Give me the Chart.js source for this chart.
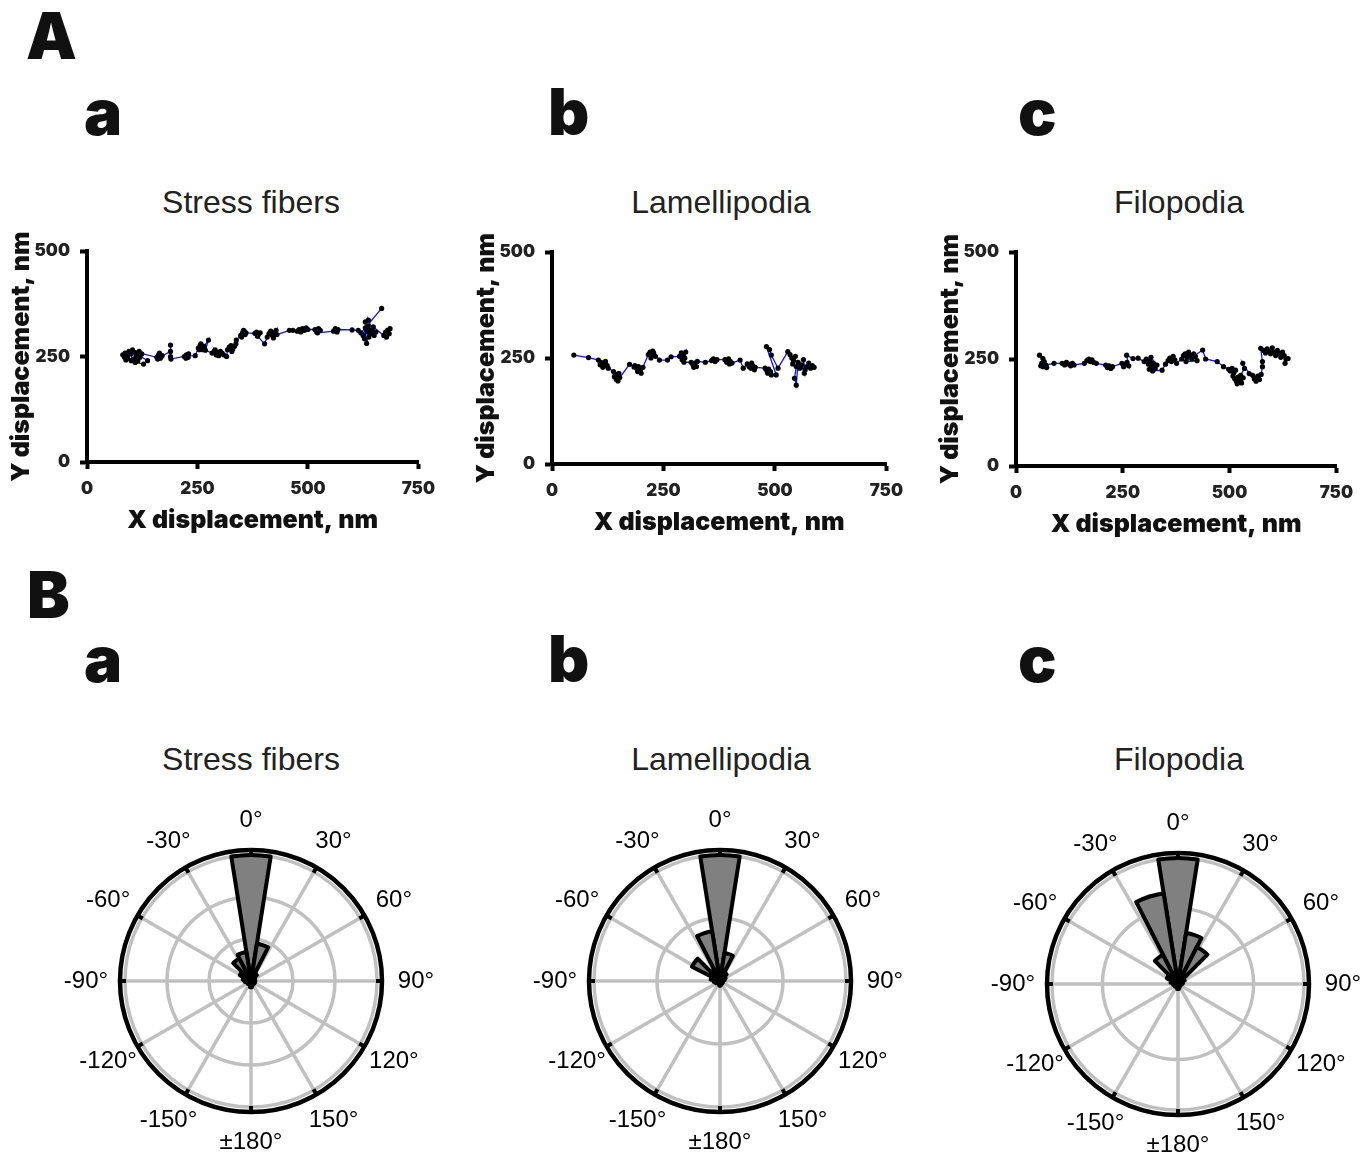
<!DOCTYPE html>
<html>
  <head>
    <meta charset="utf-8" />
    <title>Trajectories and direction roses</title>
    <script src="https://cdn.jsdelivr.net/npm/chart.js"></script>
    <style>
      body {
        margin: 0;
        background: #fff;
        width: 1363px;
        height: 1155px;
        position: relative;
        overflow: hidden;
        font-family: "Liberation Sans", Arial, sans-serif;
      }
      .panel {
        position: absolute;
        font-family: Inter, "DejaVu Sans", sans-serif;
        font-weight: 900;
        font-size: 64px;
        line-height: 1;
        color: #111;
      }
      .title {
        position: absolute;
        width: 300px;
        text-align: center;
        font-size: 32px;
        line-height: 1;
        color: #222;
      }
      canvas {
        position: absolute;
      }
    </style>
  </head>
  <body>
    <div class="panel" style="left: 26px; top: 4px">A</div>
    <div class="panel" style="left: 84px; top: 80px">a</div>
    <div class="panel" style="left: 548px; top: 80px">b</div>
    <div class="panel" style="left: 1018px; top: 80px">c</div>
    <div class="panel" style="left: 27px; top: 563px">B</div>
    <div class="panel" style="left: 84px; top: 627px">a</div>
    <div class="panel" style="left: 548px; top: 627px">b</div>
    <div class="panel" style="left: 1018px; top: 627px">c</div>

    <div class="title" style="left: 101px; top: 186px">Stress fibers</div>
    <div class="title" style="left: 571px; top: 186px">Lamellipodia</div>
    <div class="title" style="left: 1029px; top: 186px">Filopodia</div>
    <div class="title" style="left: 101px; top: 743px">Stress fibers</div>
    <div class="title" style="left: 571px; top: 743px">Lamellipodia</div>
    <div class="title" style="left: 1029px; top: 743px">Filopodia</div>

    <canvas id="trackA" width="445" height="320" style="left: 0px; top: 225px"></canvas>
    <canvas id="trackB" width="448" height="321" style="left: 465px; top: 226px"></canvas>
    <canvas id="trackC" width="434" height="323" style="left: 929px; top: 226px"></canvas>

    <canvas id="roseA" width="400" height="400" style="left: 51px; top: 781px"></canvas>
    <canvas id="roseB" width="400" height="400" style="left: 520px; top: 781px"></canvas>
    <canvas id="roseC" width="400" height="400" style="left: 978px; top: 784px"></canvas>

    <script>
      // axis ticks (nm)
      const xTicks = [0, 250, 500, 750];
      const yTicks = [0, 250, 500];

      // trajectories (nm)
      const stressX = [81, 86, 90, 95, 99, 92, 85, 88, 100, 103, 108, 113, 118, 111, 106, 120, 124, 115, 109, 128, 137, 104, 158, 162, 166, 170, 164, 160, 168, 189, 189, 189, 190, 220, 225, 229, 224, 230, 226, 245, 252, 256, 260, 262, 254, 258, 265, 275, 268, 283, 288, 292, 296, 290, 298, 302, 306, 309, 316, 318, 322, 326, 330, 334, 328, 337, 338, 348, 352, 356, 358, 350, 354, 360, 380, 384, 388, 392, 386, 402, 408, 412, 416, 420, 424, 428, 422, 430, 458, 466, 476, 480, 484, 488, 492, 496, 500, 516, 520, 524, 528, 522, 558, 562, 566, 568, 600, 614, 620, 667, 630, 625, 634, 630, 638, 642, 637, 646, 650, 654, 628, 636, 633, 640, 648, 672, 676, 680, 684, 678, 686];
      const stressY = [254, 258, 250, 262, 256, 246, 248, 242, 240, 266, 260, 254, 262, 250, 244, 248, 256, 240, 236, 232, 240, 262, 248, 254, 246, 252, 258, 244, 250, 262, 277, 250, 244, 250, 254, 248, 246, 256, 251, 252, 270, 276, 272, 266, 266, 280, 274, 289, 265, 258, 262, 254, 260, 266, 252, 262, 258, 254, 250, 266, 272, 276, 268, 274, 262, 280, 289, 300, 306, 310, 302, 296, 312, 306, 305, 308, 302, 306, 298, 280, 296, 304, 310, 300, 306, 312, 294, 302, 312, 312, 310, 314, 308, 316, 312, 318, 314, 314, 308, 316, 312, 306, 310, 316, 308, 314, 313, 312, 306, 364, 318, 300, 310, 332, 296, 304, 336, 314, 300, 308, 292, 322, 281, 312, 320, 300, 308, 312, 304, 296, 316];

      const lamelX = [49, 82, 104, 110, 116, 120, 124, 114, 108, 126, 138, 142, 146, 150, 144, 148, 140, 152, 174, 184, 186, 190, 194, 198, 192, 200, 204, 216, 220, 224, 228, 232, 222, 226, 241, 259, 267, 286, 290, 294, 298, 300, 292, 296, 312, 316, 320, 324, 318, 326, 344, 358, 362, 366, 370, 388, 392, 396, 400, 404, 398, 422, 429, 438, 442, 446, 450, 454, 448, 456, 478, 482, 486, 490, 484, 492, 503, 481, 488, 492, 507, 529, 534, 538, 542, 546, 540, 548, 544, 548, 552, 556, 560, 566, 564, 568, 572, 576, 580, 584, 588];
      const lamelY = [257, 251, 245, 240, 236, 242, 232, 228, 234, 226, 218, 212, 206, 214, 200, 196, 206, 204, 235, 229, 232, 226, 230, 222, 218, 214, 228, 258, 264, 256, 262, 254, 250, 266, 245, 245, 253, 254, 262, 258, 250, 264, 246, 240, 240, 234, 238, 230, 228, 242, 240, 244, 248, 242, 246, 246, 240, 248, 242, 238, 236, 245, 226, 236, 230, 226, 232, 222, 238, 228, 226, 220, 224, 218, 214, 210, 210, 277, 270, 257, 226, 265, 258, 250, 244, 254, 236, 230, 202, 186, 240, 226, 234, 214, 246, 222, 230, 238, 226, 232, 228];

      const filoX = [55, 63, 66, 60, 64, 68, 72, 58, 70, 89, 108, 114, 118, 124, 128, 132, 136, 160, 166, 170, 174, 178, 182, 188, 210, 214, 218, 222, 226, 248, 252, 256, 260, 264, 259, 274, 286, 300, 305, 310, 314, 318, 322, 326, 330, 316, 312, 320, 342, 350, 356, 360, 364, 368, 372, 376, 388, 392, 396, 400, 404, 408, 412, 416, 420, 424, 398, 437, 444, 471, 486, 498, 502, 506, 510, 514, 508, 512, 516, 520, 524, 528, 532, 518, 526, 535, 531, 546, 554, 558, 562, 566, 570, 574, 577, 577, 573, 580, 584, 588, 592, 596, 600, 604, 608, 612, 616, 620, 624, 628, 632, 630, 637];
      const filoY = [259, 251, 244, 240, 232, 236, 230, 234, 236, 240, 240, 236, 242, 238, 234, 240, 236, 240, 246, 250, 244, 248, 242, 240, 236, 230, 234, 228, 232, 240, 232, 238, 242, 234, 259, 251, 252, 244, 250, 238, 246, 232, 240, 228, 236, 254, 226, 222, 224, 238, 246, 252, 244, 256, 248, 240, 250, 258, 262, 254, 266, 258, 250, 262, 256, 246, 244, 271, 250, 244, 232, 226, 222, 228, 218, 224, 210, 204, 198, 208, 200, 194, 206, 192, 212, 228, 240, 216, 212, 204, 198, 210, 202, 214, 232, 244, 275, 270, 264, 274, 268, 262, 276, 266, 258, 270, 262, 254, 266, 258, 250, 240, 251];

      // rose histograms: 20 bins of 18 degrees, clockwise from 0
      const binCenters = [0, 18, 36, 54, 72, 90, 108, 126, 144, 162, 180, 198, 216, 234, 252, 270, 288, 306, 324, 342];
      const stressRose = [30, 9, 2, 1, 1, 1, 1, 0.5, 1, 1, 1.5, 1, 0.5, 1, 1, 1.5, 2, 3, 6, 7];
      const lamelRose = [40, 9, 3, 2, 1.5, 1, 1, 1, 1, 1, 1.5, 1, 1, 1, 1.5, 2, 3, 10, 4, 16];
      const filoRose = [50, 20.5, 16.5, 3, 2, 1.5, 1, 1, 1, 1.5, 2, 1, 1, 1.5, 1.5, 2, 3, 5, 13, 36.5];
      const stressRings = [10, 20, 30];
      const lamelRings = [20, 40];
      const filoRings = [30, 50];

      const dirAngles = [0, 30, 60, 90, 120, 150, 180, 210, 240, 270, 300, 330];
      const dirLabels = ["0°", "30°", "60°", "90°", "120°", "150°", "±180°", "-150°", "-120°", "-90°", "-60°", "-30°"];

      const heavy = "Inter, 'DejaVu Sans', sans-serif";

      function axisOpts(title, ticks, max, titlePad) {
        return {
          type: "linear",
          min: 0,
          max: max,
          afterBuildTicks: (s) => {
            s.ticks = ticks.map((v) => ({ value: v }));
          },
          grid: {
            drawOnChartArea: false,
            drawTicks: true,
            tickLength: 7,
            tickWidth: 4,
            tickColor: "#000",
          },
          border: { display: true, color: "#000", width: 4 },
          ticks: {
            color: "#222",
            padding: 10,
            font: { family: heavy, weight: "900", size: 17 },
          },
          title: {
            display: true,
            text: title,
            color: "#111",
            padding: titlePad,
            font: { family: heavy, weight: "900", size: 25 },
          },
        };
      }

      function trackChart(id, xs, ys, padRight) {
        const pts = xs.map((x, i) => ({ x: x, y: ys[i] }));
        const xAxis = axisOpts("X displacement, nm", xTicks, 750, { top: 0, bottom: 10 });
        xAxis.afterFit = (s) => {
          s.height = 83;
        };
        const yAxis = axisOpts("Y displacement, nm", yTicks, 500, { top: 6, bottom: 0 });
        yAxis.afterFit = (s) => {
          s.width = 87;
        };
        return new Chart(document.getElementById(id), {
          type: "scatter",
          data: {
            datasets: [
              {
                data: pts,
                showLine: true,
                borderColor: "#1414ff",
                borderWidth: 1.3,
                pointRadius: 2.6,
                pointBackgroundColor: "#000",
                pointBorderWidth: 0,
              },
            ],
          },
          options: {
            responsive: false,
            animation: false,
            layout: { padding: { top: 26, right: padRight, left: 0, bottom: 0 } },
            plugins: { legend: { display: false }, tooltip: { enabled: false } },
            scales: { x: xAxis, y: yAxis },
          },
        });
      }

      // spokes, black rim, rim ticks and direction labels
      const roseDecor = {
        id: "roseDecor",
        beforeDatasetsDraw(chart) {
          const r = chart.scales.r;
          const ctx = chart.ctx;
          ctx.save();
          ctx.strokeStyle = "#c0c0c0";
          ctx.lineWidth = 3.5;
          dirAngles.forEach((a) => {
            const t = (a * Math.PI) / 180;
            ctx.beginPath();
            ctx.moveTo(r.xCenter, r.yCenter);
            ctx.lineTo(r.xCenter + Math.sin(t) * r.drawingArea, r.yCenter - Math.cos(t) * r.drawingArea);
            ctx.stroke();
          });
          ctx.restore();
        },
        afterDatasetsDraw(chart) {
          const r = chart.scales.r;
          const ctx = chart.ctx;
          const rim = r.drawingArea + 5;
          ctx.save();
          ctx.strokeStyle = "#000";
          ctx.lineWidth = 4.5;
          ctx.beginPath();
          ctx.arc(r.xCenter, r.yCenter, rim, 0, Math.PI * 2);
          ctx.stroke();
          ctx.lineWidth = 4;
          ctx.font = "24px 'Liberation Sans', Arial, sans-serif";
          ctx.fillStyle = "#000";
          ctx.textAlign = "center";
          ctx.textBaseline = "middle";
          dirAngles.forEach((a, i) => {
            const t = (a * Math.PI) / 180;
            const s = Math.sin(t);
            const c = Math.cos(t);
            ctx.beginPath();
            ctx.moveTo(r.xCenter + s * (r.drawingArea - 1), r.yCenter - c * (r.drawingArea - 1));
            ctx.lineTo(r.xCenter + s * rim, r.yCenter - c * rim);
            ctx.stroke();
            ctx.fillText(dirLabels[i], r.xCenter + s * 165, r.yCenter - c * 161);
          });
          ctx.restore();
        },
      };

      function roseChart(id, counts, rings) {
        const top = rings[rings.length - 1];
        return new Chart(document.getElementById(id), {
          type: "polarArea",
          data: {
            labels: binCenters.map((a) => a + "°"),
            datasets: [
              {
                data: counts,
                backgroundColor: "#808080",
                borderColor: "#000",
                borderWidth: 4,
                borderJoinStyle: "round",
              },
            ],
          },
          options: {
            responsive: false,
            animation: false,
            layout: { padding: 74 },
            plugins: { legend: { display: false }, tooltip: { enabled: false } },
            scales: {
              r: {
                min: 0,
                max: top,
                startAngle: -9,
                afterBuildTicks: (s) => {
                  s.ticks = [0].concat(rings).map((v) => ({ value: v }));
                },
                ticks: { display: false },
                grid: { color: "#c0c0c0", lineWidth: 3.5, circular: true },
                angleLines: { display: false },
                pointLabels: { display: false },
              },
            },
          },
          plugins: [roseDecor],
        });
      }

      trackChart("trackA", stressX, stressY, 23);
      trackChart("trackB", lamelX, lamelY, 23);
      trackChart("trackC", filoX, filoY, 17);

      roseChart("roseA", stressRose, stressRings);
      roseChart("roseB", lamelRose, lamelRings);
      roseChart("roseC", filoRose, filoRings);
    </script>
  </body>
</html>
